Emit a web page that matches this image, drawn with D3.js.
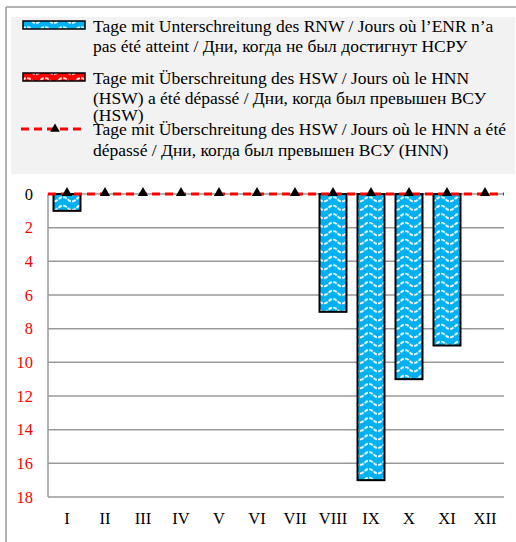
<!DOCTYPE html>
<html><head><meta charset="utf-8">
<script src="https://cdn.jsdelivr.net/npm/d3@7"></script>
<style>body{margin:0;background:#fff}svg{display:block}</style>
</head><body>
<script>
const months = ["I","II","III","IV","V","VI","VII","VIII","IX","X","XI","XII"];
const rnwDays = [1,0,0,0,0,0,0,7,17,11,9,0];
const hswDays = [0,0,0,0,0,0,0,0,0,0,0,0];
const hnnDays = [0,0,0,0,0,0,0,0,0,0,0,0];
const yTicks = [0,2,4,6,8,10,12,14,16,18];
const legendLabels = [
  ["Tage mit Unterschreitung des RNW / Jours où l’ENR n’a","pas été atteint / Дни, когда не был достигнут НСРУ"],
  ["Tage mit Überschreitung des HSW / Jours où le HNN","(HSW) a été dépassé / Дни, когда был превышен ВСУ","(HSW)"],
  ["Tage mit Überschreitung des HSW / Jours où le HNN a été","dépassé / Дни, когда был превышен ВСУ (HNN)"]
];

const W=516,H=542;
const svg=d3.select("body").append("svg").attr("width",W).attr("height",H);
const font="'Liberation Serif','Times New Roman',serif";

const defs=svg.append("defs");
function wave(id,col){
  const p=defs.append("pattern").attr("id",id).attr("patternUnits","userSpaceOnUse")
    .attr("width",18).attr("height",8.5);
  p.append("rect").attr("width",18).attr("height",8.5).attr("fill",col);
  p.append("path").attr("d","M0,6 C4.5,6 4.5,1.5 9,1.5 C13.5,1.5 13.5,6 18,6")
   .attr("fill","none").attr("stroke","#fff").attr("stroke-width",1.8).attr("stroke-dasharray","4,1.2");
}
wave("wb","#00b0f0");
wave("wr","#ff0000");

// frame lines
svg.append("line").attr("x1",6).attr("x2",W).attr("y1",7).attr("y2",7).attr("stroke","#999").attr("stroke-width",1.5);
svg.append("line").attr("x1",6).attr("x2",6).attr("y1",7).attr("y2",H).attr("stroke","#999").attr("stroke-width",1.5);

// legend
svg.append("rect").attr("x",11).attr("y",17).attr("width",504).attr("height",157).attr("fill","#f2f2f2");
const lg=svg.append("g");
lg.append("rect").attr("x",23).attr("y",21).attr("width",62).attr("height",8).attr("fill","url(#wb)").attr("stroke","#000").attr("stroke-width",1.5);
lg.append("rect").attr("x",23).attr("y",73).attr("width",62).attr("height",8).attr("fill","url(#wr)").attr("stroke","#000").attr("stroke-width",1.5);
lg.append("line").attr("x1",21).attr("x2",83).attr("y1",129).attr("y2",129).attr("stroke","#ff0000").attr("stroke-width",3).attr("stroke-dasharray","8,5");
lg.append("path").attr("d",d3.symbol(d3.symbolTriangle,40)()).attr("transform","translate(55,129)").attr("fill","#000");
const lineYs=[[32,52],[84,104,121],[135,156]];
legendLabels.forEach((ls,i)=>ls.forEach((t,j)=>{
  lg.append("text").attr("x",93).attr("y",lineYs[i][j]).attr("font-family",font).attr("font-size",17.5).attr("fill","#000").text(t);
}));

// plot
const x=d3.scaleBand().domain(months).range([48,504]).paddingInner(0.29).paddingOuter(0.145);
const y=d3.scaleLinear().domain([0,18]).range([194,497]);

const grid=svg.append("g");
grid.selectAll("line").data(yTicks).join("line")
  .attr("x1",48).attr("x2",504).attr("y1",d=>y(d)).attr("y2",d=>y(d))
  .attr("stroke","#999").attr("stroke-width",1.5);
svg.append("line").attr("x1",48).attr("x2",48).attr("y1",y(0)).attr("y2",y(18)).attr("stroke","#999").attr("stroke-width",1.5);

svg.append("g").selectAll("text").data(yTicks).join("text")
  .attr("x",33).attr("y",d=>y(d)).attr("dy","0.35em").attr("text-anchor","end")
  .attr("font-family",font).attr("font-size",16.5).attr("fill",d=>d===0?"#000":"#ff0000").text(d=>d);

svg.append("g").selectAll("text").data(months).join("text")
  .attr("x",d=>x(d)+x.bandwidth()/2).attr("y",518).attr("dy","0.35em").attr("text-anchor","middle")
  .attr("font-family",font).attr("font-size",16.5).attr("fill","#000").text(d=>d);

svg.append("g").selectAll("rect").data(months.map((m,i)=>({m,v:rnwDays[i]})).filter(d=>d.v>0)).join("rect")
  .attr("x",d=>x(d.m)).attr("width",x.bandwidth()).attr("y",y(0)).attr("height",d=>y(d.v)-y(0))
  .attr("fill","url(#wb)").attr("stroke","#000").attr("stroke-width",2);
svg.append("g").selectAll("rect").data(months.map((m,i)=>({m,v:hswDays[i]})).filter(d=>d.v>0)).join("rect")
  .attr("x",d=>x(d.m)).attr("width",x.bandwidth()).attr("y",y(0)).attr("height",d=>y(d.v)-y(0))
  .attr("fill","url(#wr)").attr("stroke","#000").attr("stroke-width",2);

const pts=months.map((m,i)=>({m,v:hnnDays[i]}));
svg.append("line").attr("x1",48).attr("x2",504).attr("y1",y(0)).attr("y2",y(0))
  .attr("stroke","#ff0000").attr("stroke-width",3).attr("stroke-dasharray","8,5");
svg.append("g").selectAll("path").data(pts).join("path")
  .attr("d",d3.symbol(d3.symbolTriangle,45)())
  .attr("transform",d=>`translate(${x(d.m)+x.bandwidth()/2},${y(d.v)-1})`).attr("fill","#000");
</script>
</body></html>
